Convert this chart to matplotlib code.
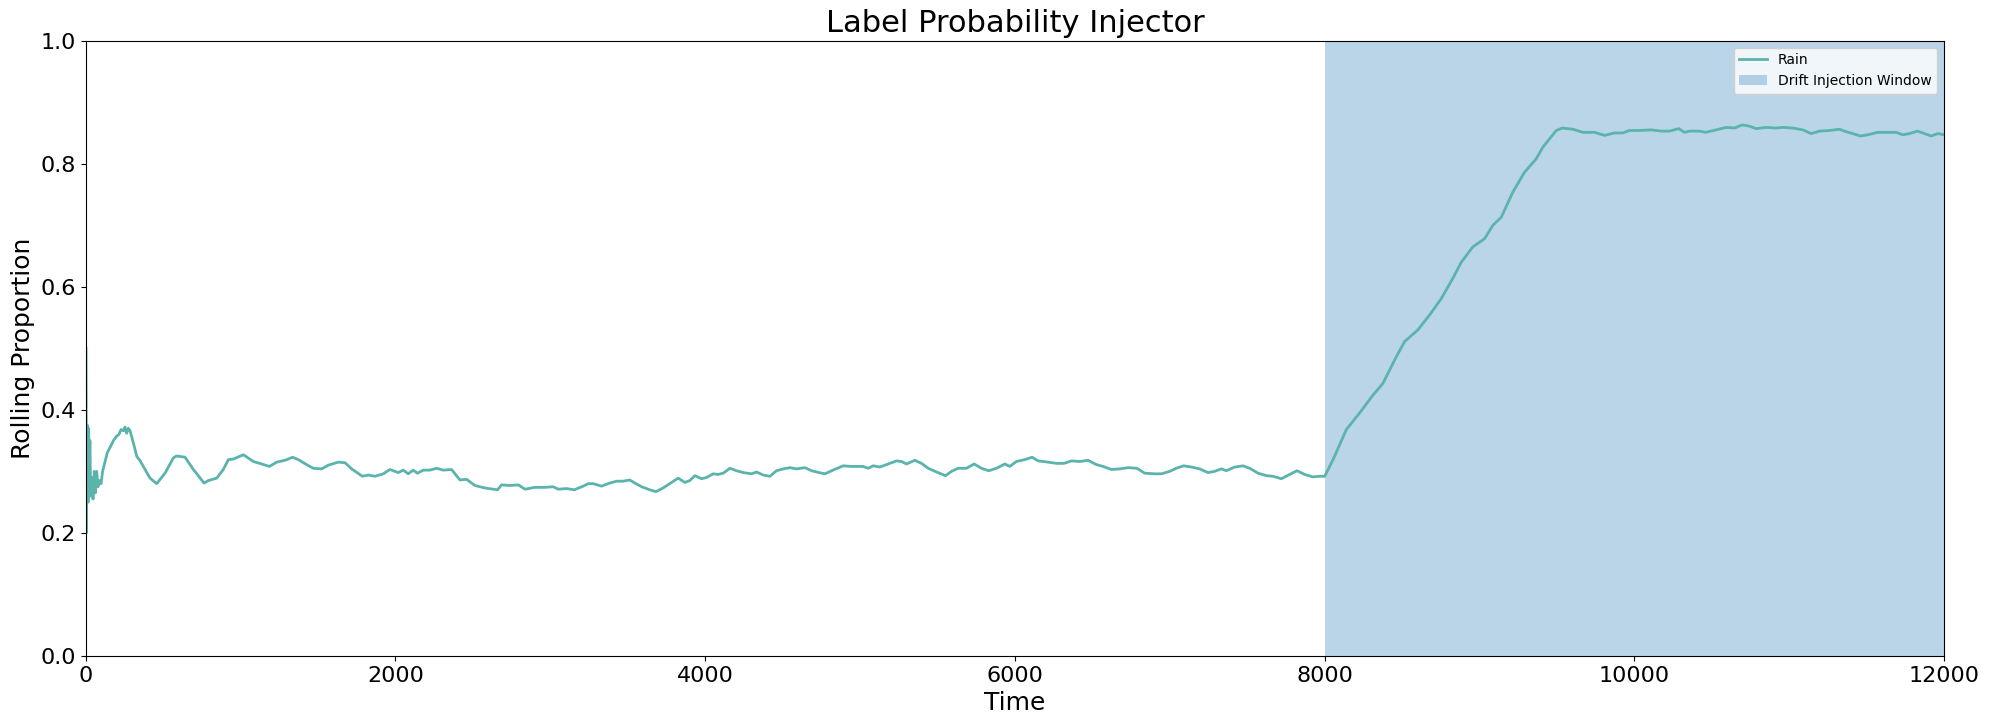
"""
    Label probability injector - rolling proportion of Rain
"""

import numpy as np
import matplotlib
matplotlib.use("Agg")
import matplotlib.pyplot as plt

# values
time = [3, 6, 9, 12, 16, 20, 24, 28, 33, 40, 48, 56, 64, 72, 80, 90, 100, 110,
        120, 130, 140, 160, 180, 200, 215, 230, 245, 255, 265, 276, 287, 299,
        315, 331, 350, 373, 416, 459, 513, 567, 588, 642, 696, 765, 793, 847,
        889, 922, 954, 1019, 1083, 1137, 1187, 1234, 1288, 1337, 1374, 1427,
        1470, 1524, 1567, 1632, 1675, 1718, 1787, 1826, 1868, 1922, 1965, 2019,
        2051, 2083, 2115, 2143, 2180, 2223, 2266, 2309, 2363, 2417, 2460, 2514,
        2578, 2660, 2686, 2740, 2794, 2837, 2901, 2966, 3019, 3052, 3106, 3155,
        3213, 3245, 3277, 3331, 3385, 3428, 3471, 3514, 3546, 3590, 3643, 3682,
        3729, 3772, 3826, 3869, 3901, 3934, 3977, 4009, 4052, 4084, 4117, 4160,
        4203, 4246, 4300, 4332, 4375, 4418, 4461, 4504, 4547, 4590, 4644, 4687,
        4736, 4773, 4826, 4891, 4945, 5020, 5053, 5085, 5128, 5182, 5236, 5268,
        5300, 5354, 5397, 5440, 5494, 5552, 5591, 5633, 5687, 5737, 5784, 5831,
        5881, 5935, 5967, 6010, 6064, 6111, 6150, 6214, 6268, 6317, 6365, 6419,
        6472, 6526, 6569, 6623, 6677, 6730, 6788, 6838, 6903, 6946, 6999, 7042,
        7090, 7139, 7193, 7247, 7290, 7333, 7365, 7419, 7473, 7516, 7570, 7624,
        7667, 7720, 7774, 7821, 7871, 7924, 7967, 8000, 8054, 8140, 8226, 8312,
        8376, 8462, 8516, 8602, 8677, 8753, 8828, 8882, 8957, 9032, 9086, 9140,
        9215, 9290, 9366, 9409, 9495, 9534, 9603, 9667, 9742, 9807, 9871, 9925,
        9968, 10033, 10108, 10173, 10226, 10286, 10323, 10356, 10420, 10459,
        10528, 10592, 10646, 10695, 10743, 10786, 10850, 10915, 10958, 11022,
        11087, 11141, 11195, 11259, 11324, 11367, 11410, 11457, 11506, 11571,
        11625, 11690, 11733, 11776, 11826, 11862, 11916, 11959, 12000]

rain = [0.500, 0.200, 0.330, 0.375, 0.250, 0.370, 0.300, 0.350, 0.260, 0.290,
        0.255, 0.300, 0.265, 0.300, 0.275, 0.285, 0.280, 0.300, 0.310, 0.320,
        0.330, 0.340, 0.350, 0.357, 0.360, 0.368, 0.366, 0.372, 0.362, 0.370,
        0.366, 0.355, 0.340, 0.324, 0.318, 0.308, 0.289, 0.280, 0.297, 0.322,
        0.325, 0.323, 0.303, 0.281, 0.285, 0.289, 0.303, 0.319, 0.320, 0.327,
        0.316, 0.312, 0.308, 0.315, 0.318, 0.323, 0.319, 0.311, 0.305, 0.304,
        0.310, 0.315, 0.314, 0.304, 0.292, 0.294, 0.292, 0.296, 0.303, 0.298,
        0.302, 0.296, 0.302, 0.297, 0.302, 0.302, 0.305, 0.302, 0.303, 0.286,
        0.287, 0.277, 0.273, 0.270, 0.278, 0.277, 0.278, 0.271, 0.274, 0.274,
        0.275, 0.271, 0.272, 0.270, 0.276, 0.280, 0.280, 0.276, 0.281, 0.284,
        0.284, 0.286, 0.281, 0.275, 0.270, 0.267, 0.273, 0.280, 0.289, 0.282,
        0.285, 0.293, 0.288, 0.290, 0.296, 0.295, 0.297, 0.305, 0.301, 0.298,
        0.296, 0.299, 0.294, 0.292, 0.301, 0.304, 0.306, 0.304, 0.306, 0.301,
        0.298, 0.296, 0.302, 0.309, 0.308, 0.308, 0.305, 0.309, 0.307, 0.312,
        0.317, 0.316, 0.312, 0.318, 0.313, 0.305, 0.299, 0.293, 0.300, 0.305,
        0.305, 0.312, 0.305, 0.301, 0.305, 0.312, 0.308, 0.316, 0.319, 0.323,
        0.317, 0.315, 0.313, 0.313, 0.317, 0.316, 0.318, 0.311, 0.308, 0.303,
        0.304, 0.306, 0.305, 0.297, 0.296, 0.296, 0.300, 0.305, 0.309, 0.307,
        0.304, 0.298, 0.300, 0.304, 0.301, 0.307, 0.309, 0.305, 0.297, 0.293,
        0.292, 0.288, 0.295, 0.301, 0.295, 0.291, 0.292, 0.292, 0.319, 0.368,
        0.395, 0.424, 0.443, 0.486, 0.511, 0.530, 0.554, 0.581, 0.614, 0.640,
        0.665, 0.678, 0.700, 0.713, 0.754, 0.786, 0.808, 0.827, 0.854, 0.858,
        0.856, 0.851, 0.851, 0.846, 0.850, 0.850, 0.854, 0.854, 0.855, 0.853,
        0.853, 0.857, 0.851, 0.853, 0.853, 0.851, 0.855, 0.859, 0.858, 0.863,
        0.861, 0.857, 0.859, 0.858, 0.859, 0.858, 0.855, 0.849, 0.853, 0.854,
        0.856, 0.852, 0.849, 0.845, 0.847, 0.851, 0.851, 0.851, 0.847, 0.849,
        0.853, 0.850, 0.845, 0.849, 0.847]

drift_start = 8000
drift_end = 12000

fig, ax = plt.subplots(figsize=(19.9, 7.26), dpi=100)
fig.subplots_adjust(left=0.043, right=0.977, top=0.944, bottom=0.0965)

ax.plot(time, rain, color="#5ab4ac", lw=2, label="Rain")
ax.axvspan(drift_start, drift_end, color="tab:blue", alpha=0.3, lw=0,
           label="Drift Injection Window")

ax.set_xlim(0, 12000)
ax.set_ylim(0, 1)
ax.set_title("Label Probability Injector", fontsize=22)
ax.set_xlabel("Time", fontsize=18)
ax.set_ylabel("Rolling Proportion", fontsize=18)
ax.tick_params(labelsize=16)
ax.legend(loc="upper right")

plt.savefig("out.png")
plt.close()
